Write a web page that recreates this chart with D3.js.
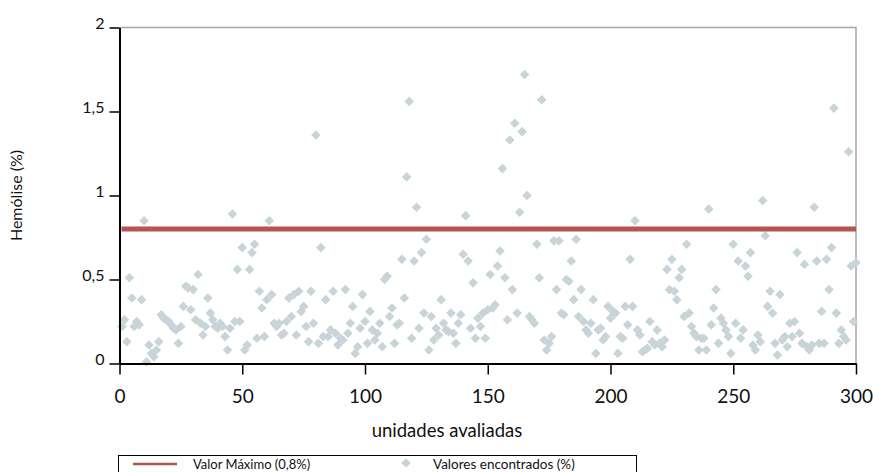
<!DOCTYPE html>
<html>
<head>
<meta charset="utf-8">
<script src="https://cdn.jsdelivr.net/npm/d3@7"></script>
<style>
  body { margin: 0; background: #fff; }
  text { font-family: Lato, "Open Sans", sans-serif; fill: #111; }
</style>
</head>
<body>
<script>
// valores de hemólise (%) por unidade avaliada, unidade 1..300
var hemolise = [
  0.22, 0.26, 0.13, 0.51, 0.39, 0.22, 0.25, 0.23, 0.38, 0.85,
  0.01, 0.11, 0.06, 0.04, 0.08, 0.13, 0.29, 0.27, 0.26, 0.25,
  0.23, 0.21, 0.20, 0.12, 0.22, 0.34, 0.46, 0.45, 0.32, 0.44,
  0.26, 0.53, 0.24, 0.17, 0.22, 0.39, 0.30, 0.26, 0.22, 0.21,
  0.24, 0.22, 0.16, 0.08, 0.21, 0.89, 0.25, 0.56, 0.25, 0.69,
  0.08, 0.11, 0.56, 0.66, 0.71, 0.15, 0.43, 0.33, 0.16, 0.38,
  0.85, 0.41, 0.24, 0.22, 0.24, 0.17, 0.18, 0.25, 0.39, 0.28,
  0.41, 0.17, 0.43, 0.31, 0.34, 0.22, 0.13, 0.43, 0.24, 1.36,
  0.12, 0.69, 0.16, 0.38, 0.16, 0.20, 0.43, 0.18, 0.11, 0.15,
  0.14, 0.44, 0.18, 0.24, 0.34, 0.06, 0.10, 0.21, 0.41, 0.25,
  0.12, 0.31, 0.20, 0.14, 0.18, 0.24, 0.10, 0.50, 0.52, 0.28,
  0.33, 0.12, 0.23, 0.24, 0.62, 0.39, 1.11, 1.56, 0.15, 0.61,
  0.93, 0.21, 0.66, 0.30, 0.74, 0.08, 0.28, 0.14, 0.21, 0.17,
  0.38, 0.24, 0.20, 0.19, 0.30, 0.18, 0.12, 0.24, 0.29, 0.65,
  0.88, 0.61, 0.21, 0.48, 0.15, 0.27, 0.22, 0.30, 0.15, 0.32,
  0.53, 0.33, 0.35, 0.58, 0.67, 1.16, 0.51, 0.26, 1.33, 0.44,
  1.43, 0.30, 0.90, 1.38, 1.72, 1.00, 0.28, 0.26, 0.24, 0.71,
  0.51, 1.57, 0.14, 0.08, 0.12, 0.16, 0.73, 0.44, 0.73, 0.30,
  0.29, 0.50, 0.49, 0.61, 0.38, 0.74, 0.28, 0.44, 0.25, 0.20,
  0.18, 0.24, 0.38, 0.06, 0.20, 0.21, 0.14, 0.16, 0.34, 0.27,
  0.31, 0.30, 0.06, 0.16, 0.15, 0.34, 0.23, 0.62, 0.34, 0.85,
  0.20, 0.17, 0.07, 0.08, 0.09, 0.25, 0.13, 0.11, 0.20, 0.12,
  0.10, 0.14, 0.56, 0.44, 0.62, 0.43, 0.38, 0.51, 0.56, 0.28,
  0.71, 0.30, 0.22, 0.18, 0.16, 0.08, 0.15, 0.15, 0.08, 0.92,
  0.23, 0.33, 0.44, 0.12, 0.27, 0.24, 0.20, 0.16, 0.06, 0.71,
  0.24, 0.61, 0.15, 0.20, 0.58, 0.52, 0.66, 0.11, 0.08, 0.17,
  0.13, 0.97, 0.76, 0.34, 0.43, 0.30, 0.12, 0.05, 0.41, 0.14,
  0.16, 0.10, 0.24, 0.16, 0.25, 0.66, 0.18, 0.12, 0.59, 0.10,
  0.08, 0.11, 0.93, 0.61, 0.12, 0.31, 0.12, 0.62, 0.44, 0.69,
  1.52, 0.30, 0.12, 0.20, 0.16, 0.14, 1.26, 0.58, 0.25, 0.60
];
var valorMaximo = 0.8;
var xTicks = [0, 50, 100, 150, 200, 250, 300];
var yTicks = [0, 0.5, 1, 1.5, 2];
var legendaLinha = "Valor Máximo (0,8%)";
var legendaPontos = "Valores encontrados (%)";

var W = 873, H = 472;
var mLeft = 119.5, mRight = 856, mTop = 27.5, mBottom = 363.5;

var svg = d3.select("body").append("svg")
    .attr("width", W)
    .attr("height", H);

var x = d3.scaleLinear().domain([0, 300]).range([mLeft, mRight]);
var y = d3.scaleLinear().domain([0, 2]).range([mBottom, mTop]);
var virgula = d3.formatLocale({decimal: ",", thousands: ".", grouping: [3], currency: ["", ""]}).format("~g");

// moldura cinza (topo e direita)
svg.append("path")
    .attr("d", "M" + mLeft + "," + mTop + "H" + mRight + "V" + mBottom)
    .attr("fill", "none")
    .attr("stroke", "#a6a6a6")
    .attr("stroke-width", 1.5);

// pontos
svg.append("g").selectAll("path")
    .data(hemolise)
    .enter()
    .append("path")
    .attr("d", d3.symbol(d3.symbolSquare, 46))
    .attr("transform", function(d, i) { return "translate(" + x(i + 1) + "," + y(d) + ") rotate(45)"; })
    .attr("fill", "#c8d4d8");

// linha do valor máximo
svg.append("line")
    .attr("x1", x(0) + 2).attr("x2", x(300))
    .attr("y1", y(valorMaximo)).attr("y2", y(valorMaximo))
    .attr("stroke", "#b5554f")
    .attr("stroke-width", 5);

// eixos
var xAxis = svg.append("g")
    .attr("transform", "translate(0," + mBottom + ")")
    .call(d3.axisBottom(x).tickValues(xTicks).tickSize(11).tickPadding(15).tickSizeOuter(0));
var yAxis = svg.append("g")
    .attr("transform", "translate(" + mLeft + ",0)")
    .call(d3.axisLeft(y).tickValues(yTicks).tickFormat(virgula).tickSize(10).tickPadding(5).tickSizeOuter(0));

[xAxis, yAxis].forEach(function(g) {
  g.select(".domain").attr("stroke", "#000").attr("stroke-width", 2);
  g.selectAll(".tick line").attr("stroke", "#000").attr("stroke-width", 1.5);
  g.selectAll(".tick text").style("font-family", "Lato, sans-serif").attr("fill", "#111");
});
xAxis.selectAll(".tick text").style("font-size", "19px");
yAxis.selectAll(".tick text").style("font-size", "16px").attr("dy", "0.05em");

svg.append("text")
    .attr("x", 447)
    .attr("y", 437)
    .attr("text-anchor", "middle")
    .style("font-size", "18.5px")
    .text("unidades avaliadas");

svg.append("text")
    .attr("transform", "translate(22," + ((mTop + mBottom) / 2) + ") rotate(-90)")
    .attr("text-anchor", "middle")
    .style("font-size", "16px")
    .text("Hemólise (%)");

// legenda
var leg = svg.append("g");
leg.append("rect")
    .attr("x", 118.5).attr("y", 455.5)
    .attr("width", 518).attr("height", 30)
    .attr("fill", "none").attr("stroke", "#000").attr("stroke-width", 1);
leg.append("line")
    .attr("x1", 133).attr("x2", 177).attr("y1", 464).attr("y2", 464)
    .attr("stroke", "#b5554f").attr("stroke-width", 2.5);
leg.append("text")
    .attr("x", 193).attr("y", 468.5)
    .style("font-size", "13px")
    .text(legendaLinha);
leg.append("path")
    .attr("d", d3.symbol(d3.symbolSquare, 46))
    .attr("transform", "translate(406,463) rotate(45)")
    .attr("fill", "#c8d4d8");
leg.append("text")
    .attr("x", 433).attr("y", 468.5)
    .style("font-size", "13.5px")
    .text(legendaPontos);
</script>
</body>
</html>
